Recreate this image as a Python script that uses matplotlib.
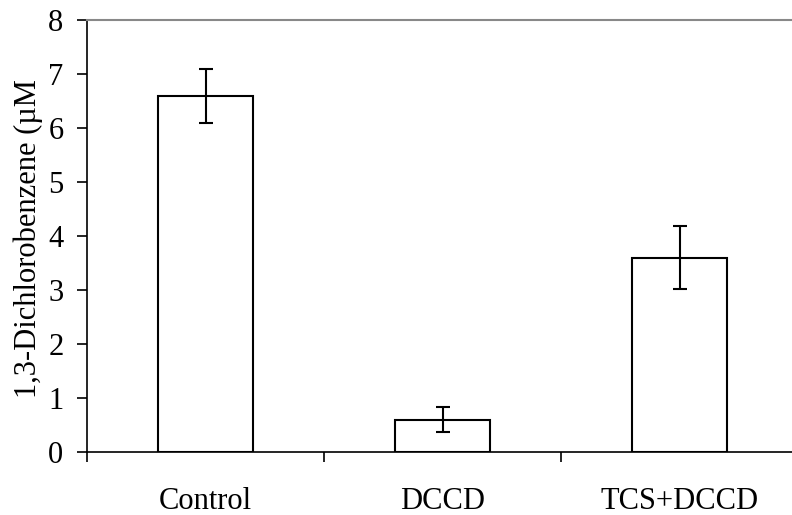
import matplotlib
matplotlib.use("Agg")
import matplotlib.pyplot as plt

# data
groups = ["Control", "DCCD", "TCS+DCCD"]
means = [6.6, 0.6, 3.6]
errs = [0.5, 0.23, 0.59]

plt.rcParams['font.family'] = ['Liberation Serif', 'DejaVu Serif']

fig = plt.figure(figsize=(7.92, 5.15), dpi=100)
# axes runs off the right edge like in the original
ax = fig.add_axes([87/792, 63/515, 711/792, 432/515])

x = range(len(groups))
ax.bar(x, means, width=0.4, color="white", edgecolor="black", linewidth=1.5)
ax.errorbar(x, means, yerr=errs, fmt="none", ecolor="black",
            elinewidth=1.5, capsize=5, capthick=1.5)

ax.set_xlim(-0.5, 2.5)
ax.set_ylim(0, 8)
ax.set_yticks(range(0, 9))
ax.tick_params(axis="y", direction="out", length=7, width=1.2, labelsize=22, pad=10)

# ticks between categories, labels at category centres
ax.set_xticks([-0.5, 0.5, 1.5, 2.5])
ax.set_xticklabels([])
ax.set_xticks(list(x), minor=True)
ax.set_xticklabels(groups, minor=True)
ax.tick_params(axis="x", which="major", direction="out", length=7, width=1.2)
ax.tick_params(axis="x", which="minor", length=0, labelsize=22, pad=25)

ax.spines["right"].set_visible(False)
ax.spines["top"].set_color("#888888")
ax.spines["top"].set_linewidth(1.5)
ax.spines["left"].set_linewidth(1.2)
ax.spines["bottom"].set_linewidth(1.2)

fig.text(28/792, 1 - 398/515, "1,3-Dichlorobenzene (\u00b5M", rotation=90,
         ha="center", va="bottom", fontsize=22)

fig.savefig("out.png", dpi=100)
